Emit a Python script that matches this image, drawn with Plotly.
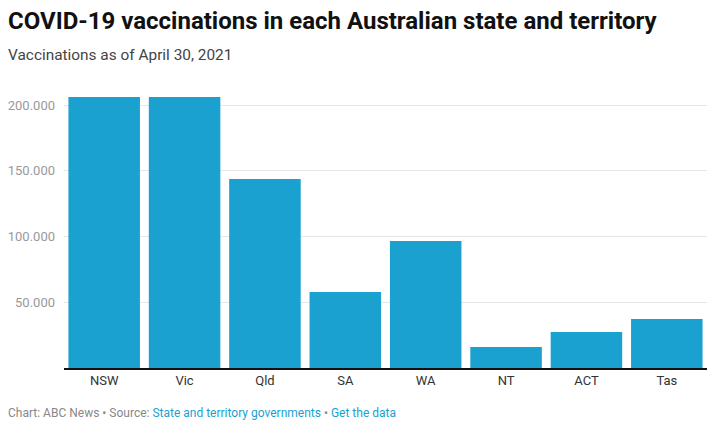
import plotly.graph_objects as go

states = ["NSW", "Vic", "Qld", "SA", "WA", "NT", "ACT", "Tas"]
vaccinations = [206300, 206200, 143800, 57800, 96700, 16000, 27400, 37300]
tick_values = [50000, 100000, 150000, 200000]
tick_labels = ["50.000", "100.000", "150.000", "200.000"]

# page has an 8px body margin; work in reference pixel coordinates
OFF = 8
W, H = 725 - 2 * OFF, 430 - 2 * OFF
PLOT_L, PLOT_R, PLOT_T, PLOT_B = 64, 707, 95, 368  # reference pixel coords
L = PLOT_L - OFF
R = W - (PLOT_R - OFF)
T = PLOT_T - OFF
B = H - (PLOT_B - OFF)
ph = PLOT_B - PLOT_T
pw = PLOT_R - PLOT_L

def px(x):
    return (x - PLOT_L) / pw

def py(y):
    return (PLOT_B - y) / ph

bar_color = "#1aa1cf"

fig = go.Figure(go.Bar(x=states, y=vaccinations, marker_color=bar_color,
                       marker_line_width=0, hoverinfo="x+y"))

fig.update_layout(
    width=W, height=H,
    margin=dict(l=L, r=R, t=T, b=B, autoexpand=False),
    paper_bgcolor="white", plot_bgcolor="white",
    bargap=0.11,
    showlegend=False,
    font=dict(family="Roboto", color="#333"),
    xaxis=dict(showline=True, linecolor="#111", linewidth=1.5, ticks="",
               tickfont=dict(size=13, color="#333"), showgrid=False,
               automargin=False),
    yaxis=dict(range=[0, ph / 65.7 * 50000], autorange=False,
               tickvals=tick_values, ticktext=tick_labels,
               tickfont=dict(size=13, color="#999"),
               gridcolor="#e6e6e6", gridwidth=1, zeroline=False, ticks="",
               ticklabelstandoff=8, automargin=False),
    annotations=[
        dict(text="<b>COVID-19 vaccinations in each Australian state and territory</b>",
             x=px(6), y=py(21), xref="paper", yref="paper", xanchor="left", yanchor="middle",
             showarrow=False, font=dict(size=24, color="#111", family="Roboto")),
        dict(text="Vaccinations as of April 30, 2021",
             x=px(6), y=py(55), xref="paper", yref="paper", xanchor="left", yanchor="middle",
             showarrow=False, font=dict(size=15.4, color="#444", family="Roboto")),
        dict(text="Chart: ABC News • Source: <span style='color:#1a9fd0'>State and territory governments</span>"
                  " • <span style='color:#1a9fd0'>Get the data</span>",
             x=px(6), y=py(413), xref="paper", yref="paper", xanchor="left", yanchor="middle",
             showarrow=False, font=dict(size=12, color="#888", family="Roboto")),
    ],
)

fig.write_html("out.html")
